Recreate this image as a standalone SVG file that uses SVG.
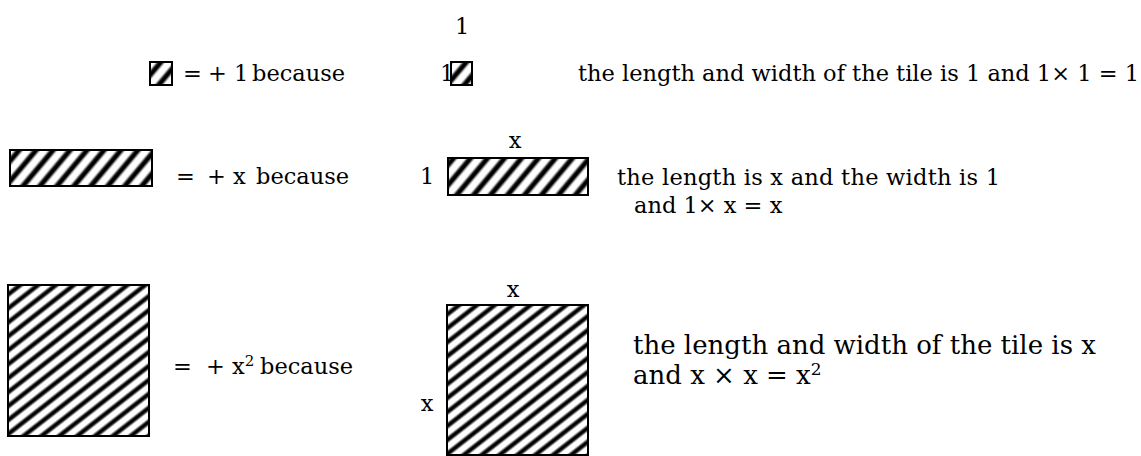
<svg xmlns="http://www.w3.org/2000/svg" width="1141" height="456" viewBox="0 0 1141 456">
<style>
text{font-family:"DejaVu Serif","Liberation Serif",serif;font-size:22.5px;fill:#000}
.big{font-size:26px}
.tile{stroke:#000;stroke-width:2}
</style>
<defs>
<linearGradient id="sg" x1="0" y1="0" x2="1" y2="0">
<stop offset="0" stop-color="#fff"/><stop offset="0.25" stop-color="#fff"/><stop offset="0.45" stop-color="#000"/><stop offset="0.65" stop-color="#000"/><stop offset="0.85" stop-color="#fff"/><stop offset="1" stop-color="#fff"/>
</linearGradient>
<pattern id="hatchA" patternUnits="userSpaceOnUse" width="13" height="13" patternTransform="rotate(40)">
<rect width="13" height="13" fill="url(#sg)"/>
</pattern>
<pattern id="hatchB" patternUnits="userSpaceOnUse" width="11" height="11" patternTransform="rotate(52)">
<rect width="11" height="11" fill="url(#sg)"/>
</pattern>
</defs>
<g id="row1">
<g id="tile-one"><rect class="tile" x="150" y="62" width="22" height="23" fill="url(#hatchA)"/></g>
<text x="183" y="81">=</text>
<text x="208" y="81">+ 1</text>
<text x="252" y="81">because</text>
<text x="440" y="81">1</text>
<g id="tile-one-dim"><rect class="tile" x="451" y="62" width="21" height="23" fill="url(#hatchA)"/></g>
<text x="455" y="34">1</text>
<text x="578" y="81">the length and width of the tile is 1 and 1× 1 = 1</text>
</g>
<g id="row2">
<g id="tile-x"><rect class="tile" x="10" y="150" width="142" height="36" fill="url(#hatchA)"/></g>
<text x="176" y="184">=</text>
<text x="207" y="184">+ x</text>
<text x="256" y="184">because</text>
<text x="420" y="184">1</text>
<g id="tile-x-dim"><rect class="tile" x="448" y="158" width="140" height="37" fill="url(#hatchA)"/></g>
<text x="515" y="148" text-anchor="middle">x</text>
<text x="617" y="185" textLength="383" lengthAdjust="spacing">the length is x and the width is 1</text>
<text x="634" y="213">and 1× x = x</text>
</g>
<g id="row3">
<g id="tile-x2"><rect class="tile" x="8" y="285" width="141" height="151" fill="url(#hatchB)"/></g>
<text x="173" y="374">=</text>
<text x="206" y="374">+ x<tspan dy="-8" font-size="15">2</tspan></text>
<text x="260" y="374">because</text>
<g id="tile-x2-dim"><rect class="tile" x="447" y="305" width="141" height="150" fill="url(#hatchB)"/></g>
<text x="513" y="297" text-anchor="middle">x</text>
<text x="427" y="411" text-anchor="middle">x</text>
<text class="big" x="633" y="354">the length and width of the tile is x</text>
<text class="big" x="633" y="384">and   x × x  = x<tspan dy="-9" font-size="17">2</tspan></text>
</g>
</svg>
